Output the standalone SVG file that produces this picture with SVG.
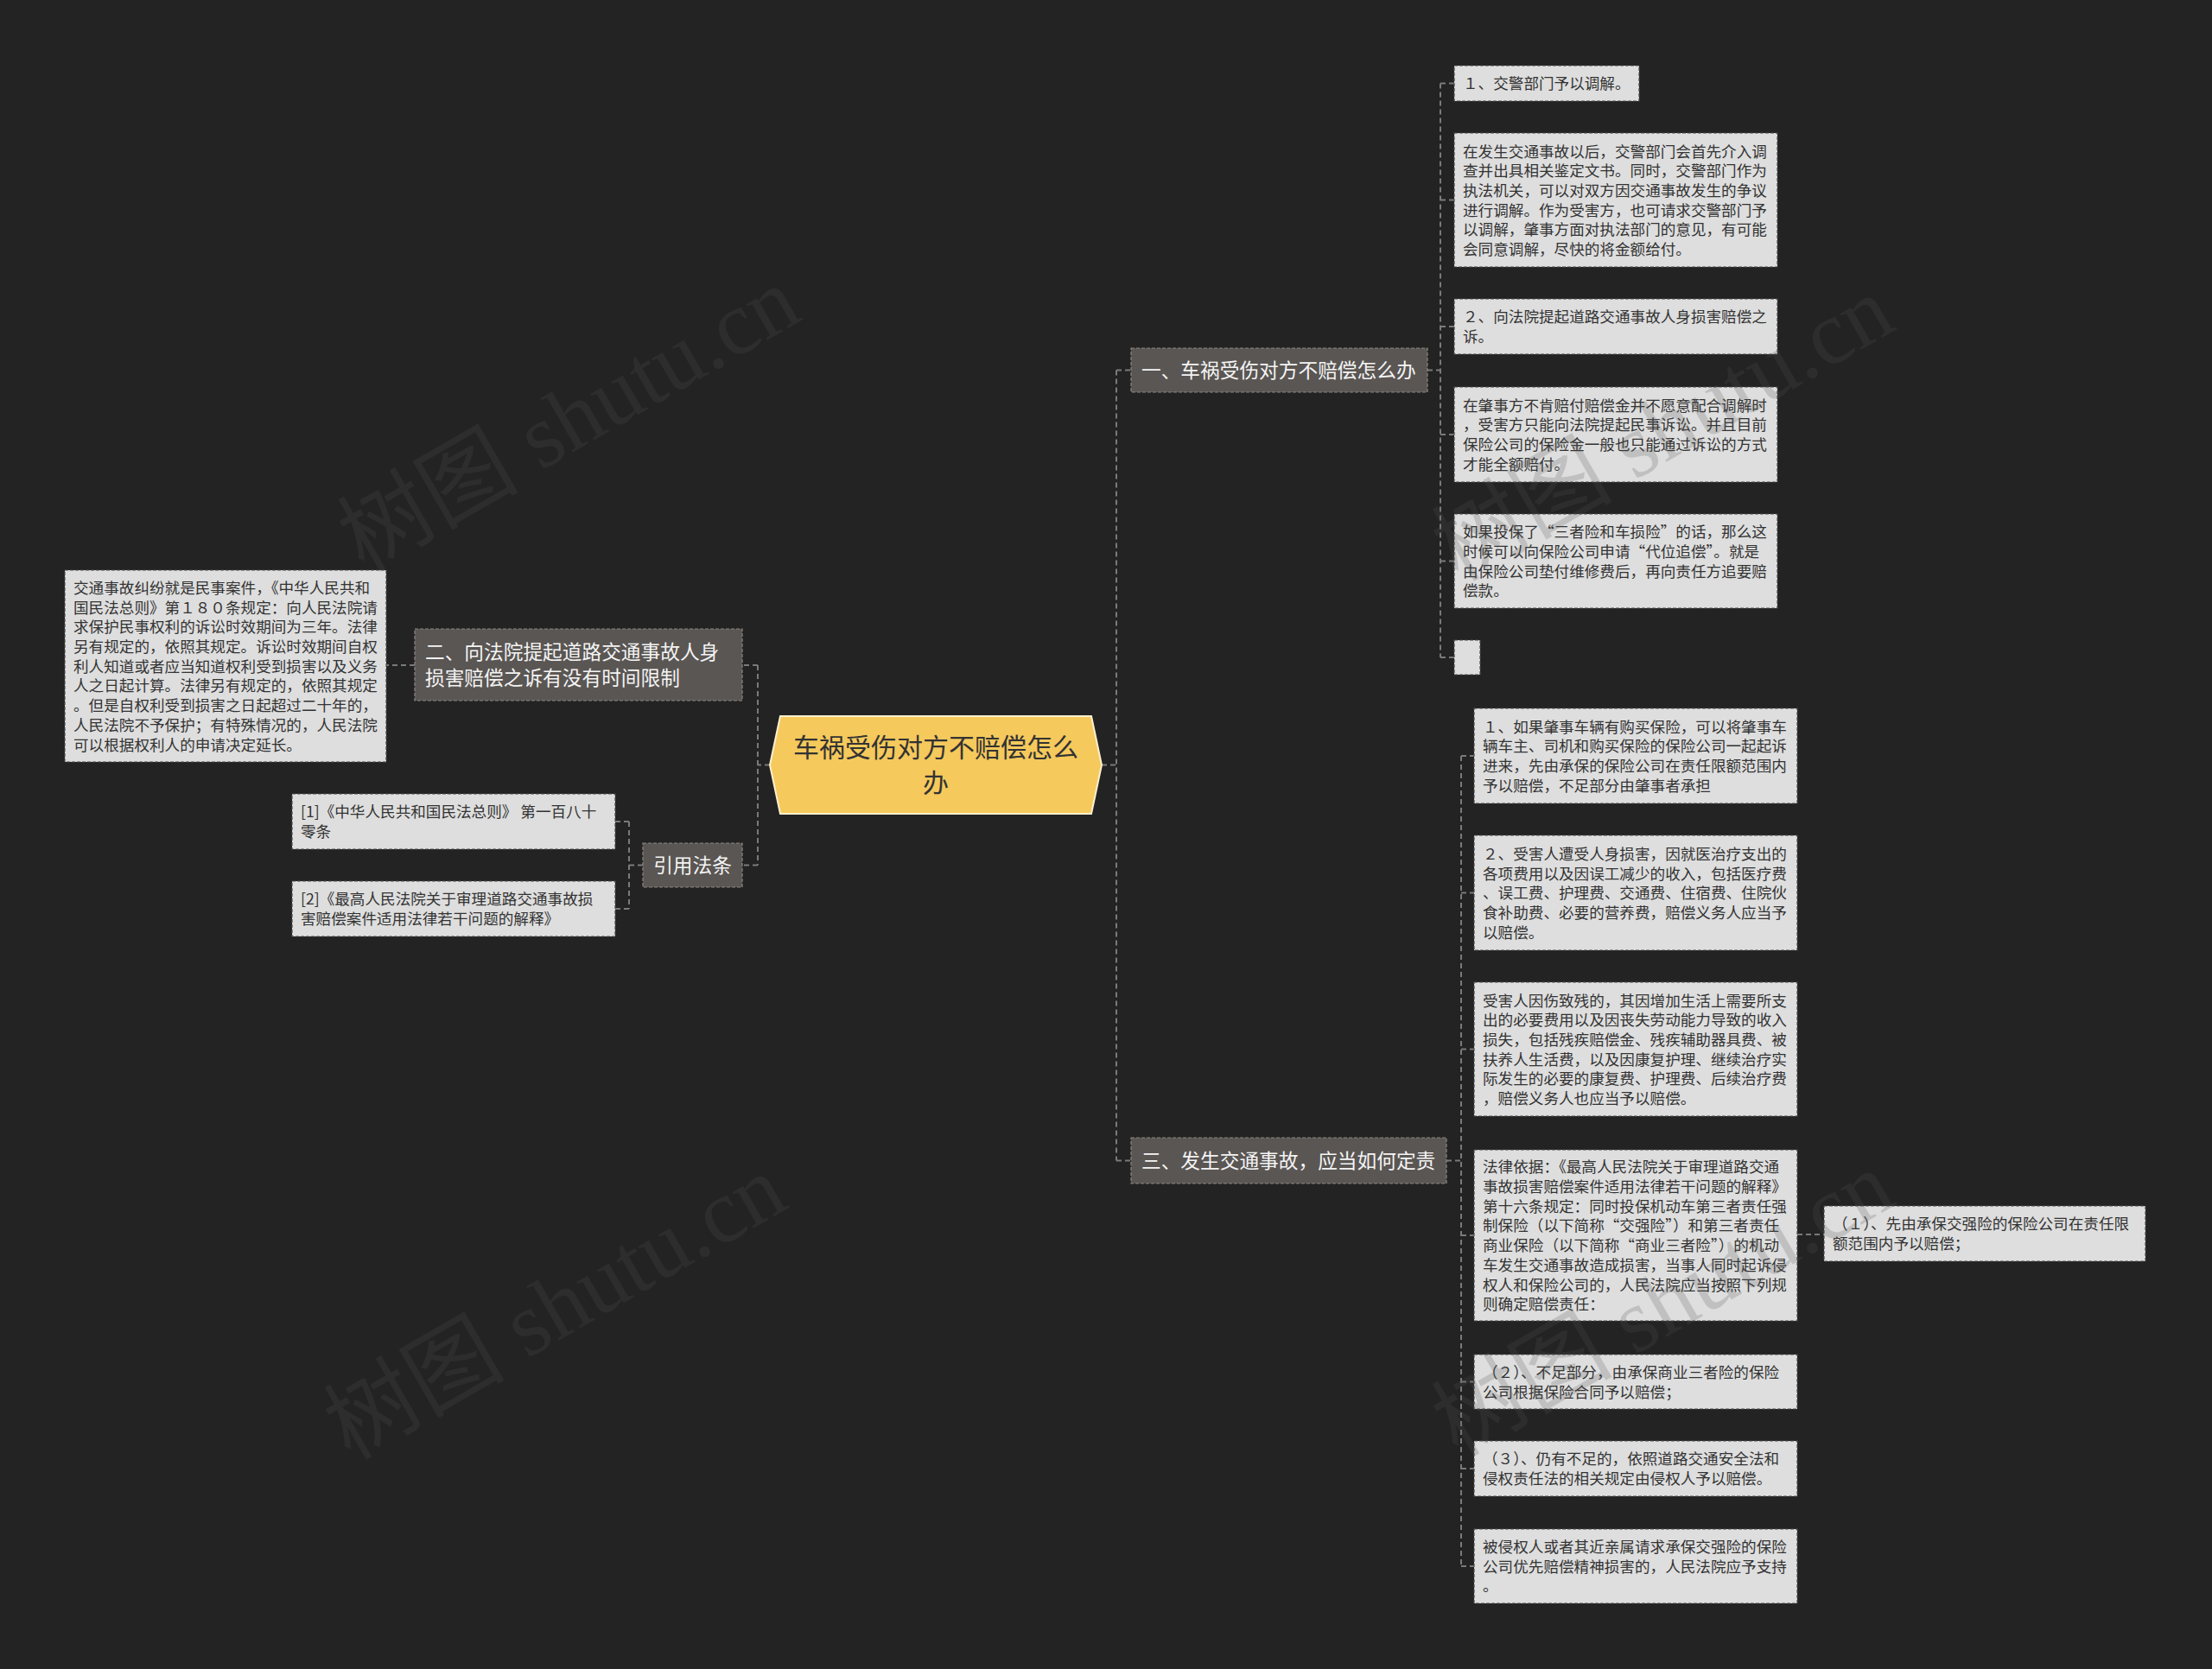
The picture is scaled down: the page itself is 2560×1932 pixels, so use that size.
<svg xmlns="http://www.w3.org/2000/svg" width="2560" height="1932" viewBox="0 0 2560 1932">
<style>
text{font-family:"Noto Sans CJK SC","Noto Sans",sans-serif}
.leaf rect{fill:#dedede;stroke:#4a4a4a;stroke-width:1.2;stroke-dasharray:4 2}
.leaf text{font-size:17.6px;fill:#333333}
.branch rect{fill:#5a5653;stroke:#8a8581;stroke-width:1.2;stroke-dasharray:4 2}
.branch text{font-size:22.7px;fill:#f4f4f4}
.conn path{fill:none;stroke:#7a7a7a;stroke-width:2;stroke-dasharray:6 4}
.wm{font-family:"Liberation Serif","Noto Sans CJK SC",serif;font-size:105px;fill:#555555;opacity:0.21}
</style>
<rect x="0" y="0" width="2560" height="1932" fill="#232323"/>

<g id="connectors" class="conn">
<path d="M1275 885.5H1292M1292 428.5V1343.5M1292 428.5H1309M1292 1343.5H1309"/>
<path d="M891 885.5H877M877 770V1001.5M877 770H859M877 1001.5H859"/>
<path d="M1652 428.5H1667M1667 96.5V761M1667 96.5H1683M1667 231.5H1683M1667 378H1683M1667 503H1683M1667 649.5H1683M1667 761H1683"/>
<path d="M1674 1343.5H1691M1691 875V1813M1691 875H1706M1691 1033.5H1706M1691 1214.5H1706M1691 1430H1706M1691 1599.5H1706M1691 1700H1706M1691 1813H1706"/>
<path d="M2080 1429H2111"/>
<path d="M480 770H447"/>
<path d="M744 1001.5H728M728 951V1052M728 951H712M728 1052H712"/>
</g>

<g id="center">
<polygon points="891,885.5 903,829 1263,829 1275,885.5 1263,942 903,942" fill="#f5c95c" stroke="#fbf0d0" stroke-width="2"/>
<text x="1083" y="876.4" text-anchor="middle" font-size="30" fill="#333333">车祸受伤对方不赔偿怎么</text>
<text x="1083" y="917.4" text-anchor="middle" font-size="30" fill="#333333">办</text>
</g>

<g id="b1" class="branch">
<rect x="1309" y="403" width="343" height="51"/>
<text x="1321" y="437.1">一、车祸受伤对方不赔偿怎么办</text>
</g>
<g id="b2" class="branch">
<rect x="480" y="728" width="379" height="83"/>
<text x="492" y="763.1">二、向法院提起道路交通事故人身</text>
<text x="492" y="793.1">损害赔偿之诉有没有时间限制</text>
</g>
<g id="b3" class="branch">
<rect x="1309" y="1317" width="365" height="53"/>
<text x="1321" y="1352.1">三、发生交通事故，应当如何定责</text>
</g>
<g id="b4" class="branch">
<rect x="744" y="976" width="115" height="51"/>
<text x="801.5" y="1010.1" text-anchor="middle">引用法条</text>
</g>

<g id="l1" class="leaf">
<rect x="1683" y="76" width="214" height="41"/>
<text x="1693" y="103.2">１、交警部门予以调解。</text>
</g>
<g id="l2" class="leaf">
<rect x="1683" y="154" width="374" height="155"/>
<text x="1693" y="181.5">在发生交通事故以后，交警部门会首先介入调</text>
<text x="1693" y="204.2">查并出具相关鉴定文书。同时，交警部门作为</text>
<text x="1693" y="226.9">执法机关，可以对双方因交通事故发生的争议</text>
<text x="1693" y="249.6">进行调解。作为受害方，也可请求交警部门予</text>
<text x="1693" y="272.3">以调解，肇事方面对执法部门的意见，有可能</text>
<text x="1693" y="295.0">会同意调解，尽快的将金额给付。</text>
</g>
<g id="l3" class="leaf">
<rect x="1683" y="346" width="374" height="64"/>
<text x="1693" y="373.4">２、向法院提起道路交通事故人身损害赔偿之</text>
<text x="1693" y="396.1">诉。</text>
</g>
<g id="l4" class="leaf">
<rect x="1683" y="448" width="374" height="110"/>
<text x="1693" y="475.7">在肇事方不肯赔付赔偿金并不愿意配合调解时</text>
<text x="1693" y="498.4">，受害方只能向法院提起民事诉讼。并且目前</text>
<text x="1693" y="521.1">保险公司的保险金一般也只能通过诉讼的方式</text>
<text x="1693" y="543.8">才能全额赔付。</text>
</g>
<g id="l5" class="leaf">
<rect x="1683" y="595" width="374" height="109"/>
<text x="1693" y="622.2">如果投保了“三者险和车损险”的话，那么这</text>
<text x="1693" y="644.9">时候可以向保险公司申请“代位追偿”。就是</text>
<text x="1693" y="667.6">由保险公司垫付维修费后，再向责任方追要赔</text>
<text x="1693" y="690.3">偿款。</text>
</g>
<g id="l6" class="leaf">
<rect x="1683" y="741" width="30" height="40"/>
</g>

<g id="l7" class="leaf">
<rect x="1706" y="820" width="374" height="110"/>
<text x="1716" y="847.7">１、如果肇事车辆有购买保险，可以将肇事车</text>
<text x="1716" y="870.4">辆车主、司机和购买保险的保险公司一起起诉</text>
<text x="1716" y="893.1">进来，先由承保的保险公司在责任限额范围内</text>
<text x="1716" y="915.8">予以赔偿，不足部分由肇事者承担</text>
</g>
<g id="l8" class="leaf">
<rect x="1706" y="967" width="374" height="133"/>
<text x="1716" y="994.8">２、受害人遭受人身损害，因就医治疗支出的</text>
<text x="1716" y="1017.5">各项费用以及因误工减少的收入，包括医疗费</text>
<text x="1716" y="1040.2">、误工费、护理费、交通费、住宿费、住院伙</text>
<text x="1716" y="1062.9">食补助费、必要的营养费，赔偿义务人应当予</text>
<text x="1716" y="1085.6">以赔偿。</text>
</g>
<g id="l9" class="leaf">
<rect x="1706" y="1137" width="374" height="155"/>
<text x="1716" y="1164.5">受害人因伤致残的，其因增加生活上需要所支</text>
<text x="1716" y="1187.2">出的必要费用以及因丧失劳动能力导致的收入</text>
<text x="1716" y="1209.9">损失，包括残疾赔偿金、残疾辅助器具费、被</text>
<text x="1716" y="1232.6">扶养人生活费，以及因康复护理、继续治疗实</text>
<text x="1716" y="1255.3">际发生的必要的康复费、护理费、后续治疗费</text>
<text x="1716" y="1278.0">，赔偿义务人也应当予以赔偿。</text>
</g>
<g id="l10" class="leaf">
<rect x="1706" y="1331" width="374" height="198"/>
<text x="1716" y="1357.3">法律依据：《最高人民法院关于审理道路交通</text>
<text x="1716" y="1380.0">事故损害赔偿案件适用法律若干问题的解释》</text>
<text x="1716" y="1402.7">第十六条规定：同时投保机动车第三者责任强</text>
<text x="1716" y="1425.4">制保险（以下简称“交强险”）和第三者责任</text>
<text x="1716" y="1448.1">商业保险（以下简称“商业三者险”）的机动</text>
<text x="1716" y="1470.8">车发生交通事故造成损害，当事人同时起诉侵</text>
<text x="1716" y="1493.5">权人和保险公司的，人民法院应当按照下列规</text>
<text x="1716" y="1516.2">则确定赔偿责任：</text>
</g>
<g id="l11" class="leaf">
<rect x="2111" y="1396" width="372" height="64"/>
<text x="2121" y="1423.4">（１）、先由承保交强险的保险公司在责任限</text>
<text x="2121" y="1446.1">额范围内予以赔偿；</text>
</g>
<g id="l12" class="leaf">
<rect x="1706" y="1568" width="374" height="63"/>
<text x="1716" y="1594.9">（２）、不足部分，由承保商业三者险的保险</text>
<text x="1716" y="1617.6">公司根据保险合同予以赔偿；</text>
</g>
<g id="l13" class="leaf">
<rect x="1706" y="1668" width="374" height="64"/>
<text x="1716" y="1695.4">（３）、仍有不足的，依照道路交通安全法和</text>
<text x="1716" y="1718.1">侵权责任法的相关规定由侵权人予以赔偿。</text>
</g>
<g id="l14" class="leaf">
<rect x="1706" y="1770" width="374" height="86"/>
<text x="1716" y="1797.0">被侵权人或者其近亲属请求承保交强险的保险</text>
<text x="1716" y="1819.7">公司优先赔偿精神损害的，人民法院应予支持</text>
<text x="1716" y="1842.4">。</text>
</g>

<g id="l15" class="leaf">
<rect x="75" y="660" width="372" height="222"/>
<text x="85" y="686.9">交通事故纠纷就是民事案件，《中华人民共和</text>
<text x="85" y="709.6">国民法总则》第１８０条规定：向人民法院请</text>
<text x="85" y="732.3">求保护民事权利的诉讼时效期间为三年。法律</text>
<text x="85" y="755.0">另有规定的，依照其规定。诉讼时效期间自权</text>
<text x="85" y="777.7">利人知道或者应当知道权利受到损害以及义务</text>
<text x="85" y="800.4">人之日起计算。法律另有规定的，依照其规定</text>
<text x="85" y="823.1">。但是自权利受到损害之日起超过二十年的，</text>
<text x="85" y="845.8">人民法院不予保护；有特殊情况的，人民法院</text>
<text x="85" y="868.5">可以根据权利人的申请决定延长。</text>
</g>
<g id="l16" class="leaf">
<rect x="338" y="919" width="374" height="64"/>
<text x="348" y="946.4">[1]《中华人民共和国民法总则》 第一百八十</text>
<text x="348" y="969.1">零条</text>
</g>
<g id="l17" class="leaf">
<rect x="338" y="1020" width="374" height="64"/>
<text x="348" y="1047.4">[2]《最高人民法院关于审理道路交通事故损</text>
<text x="348" y="1070.1">害赔偿案件适用法律若干问题的解释》</text>
</g>

<g id="watermarks">
<text class="wm" x="661" y="520" text-anchor="middle" transform="rotate(-30 661 490)">树图 shutu.cn</text>
<text class="wm" x="645" y="1548" text-anchor="middle" transform="rotate(-30 645 1518)">树图 shutu.cn</text>
<text class="wm" x="1927" y="531" text-anchor="middle" transform="rotate(-30 1927 501)">树图 shutu.cn</text>
<text class="wm" x="1927" y="1544" text-anchor="middle" transform="rotate(-30 1927 1514)">树图 shutu.cn</text>
</g>
</svg>
